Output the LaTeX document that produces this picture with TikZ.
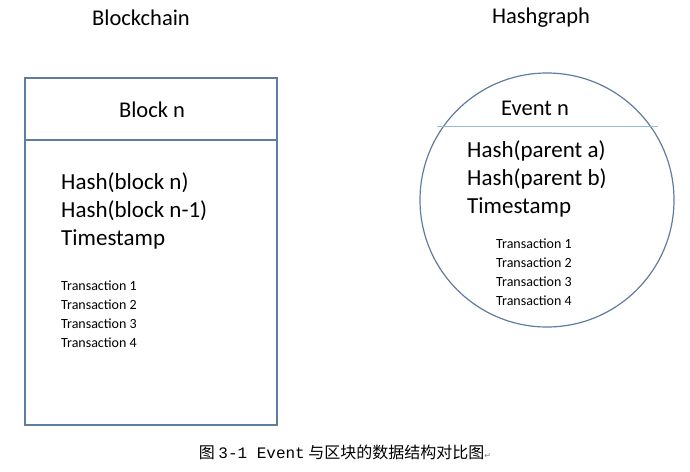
\documentclass[tikz,border=0pt]{standalone}
\usepackage{fontspec}
\setmainfont{Carlito}
\newfontfamily\cjkfont{Noto Sans CJK SC}
\newfontfamily\monofont{Liberation Mono}
\newfontfamily\symfont{DejaVu Sans}
\usetikzlibrary{positioning}
\definecolor{boxblue}{RGB}{95,125,160}
\definecolor{lineblue}{RGB}{150,185,215}
\begin{document}
\begin{tikzpicture}[x=1pt,y=-1pt,
      every node/.style={inner sep=0pt},
      title/.style={font=\fontsize{22.5}{26}\selectfont},
      big/.style={font=\fontsize{23}{26}\selectfont,anchor=west},
      small/.style={font=\fontsize{14}{16}\selectfont,anchor=west}]
      \useasboundingbox (0,0) rectangle (690,471);

      % Blockchain
      \node[title] (bctitle) at (141,18) {Blockchain};
      \draw[boxblue,line width=1.2pt] (25,78) rectangle (277,425);
      \draw[boxblue,line width=1.2pt] (25,140) -- (277,140);
      \node[title] (blockn) at (152,110) {Block n};
      \node[big] (bh1) at (61,183) {Hash(block n)};
      \node[big] (bh2) at (61,211) {Hash(block n-1)};
      \node[big] (bts) at (61,239) {Timestamp};
      \foreach \i/\y in {1/286,2/305,3/324,4/343}
        \node[small] (bt\i) at (61,\y) {Transaction \i};

      % Hashgraph
      \node[title] (hgtitle) at (541,18) {Hashgraph};
      \draw[boxblue,line width=1.2pt] (547,200) circle (127);
      \draw[lineblue,line width=1pt] (437,126) -- (658,126);
      \node[title] (eventn) at (535,108) {Event n};
      \node[big] (eh1) at (467,151) {Hash(parent a)};
      \node[big] (eh2) at (467,179) {Hash(parent b)};
      \node[big] (ets) at (467,207) {Timestamp};
      \foreach \i/\y in {1/244,2/263,3/282,4/301}
        \node[small] (et\i) at (496,\y) {Transaction \i};

      % caption
      \node[font=\fontsize{16}{18}\selectfont] (caption) at (345,452)
        {\cjkfont 图 {\monofont 3-1 Event} 与区块的数据结构对比图{\symfont\fontsize{8}{8}\selectfont\color{gray}↵}};
\end{tikzpicture}
\end{document}
